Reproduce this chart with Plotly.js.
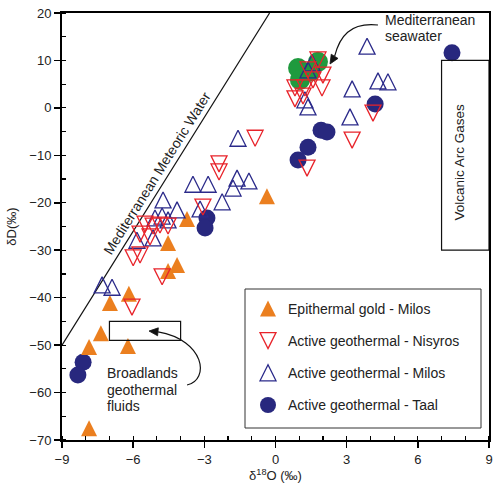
<!DOCTYPE html>
<html><head><meta charset="utf-8">
<script src="https://cdn.plot.ly/plotly-3.0.1.min.js"></script>
<style>html,body{margin:0;padding:0;background:#fff}</style>
</head><body><div id="chart" style="width:493px;height:487px"></div>
<script>
// Epithermal gold - Milos
const epiX = [-3.73, -4.53, -4.15, -4.53, -0.36, -6.18, -6.98, -7.36, -7.86, -6.22, -7.86];
const epiY = [-23.4, -28.5, -33.1, -34.4, -18.6, -39.2, -41.1, -47.5, -50.4, -50.2, -67.5];
// Active geothermal - Nisyros
const nisX = [1.79, 1.37, 2.0, 1.58, 0.82, 1.24, 1.96, 0.82, 1.16, 4.11, 3.23, 1.33, -0.86, -2.38, -2.38, -3.06, -5.5, -5.16, -4.87, -4.53, -5.71, -5.29, -6.0, -5.71, -4.78, -6.05];
const nisY = [10.1, 8.0, 6.9, 5.9, 4.2, 4.2, 4.2, 1.9, 2.5, -1.1, -6.8, -12.7, -6.4, -11.8, -13.5, -20.9, -24.5, -24.9, -24.7, -24.9, -26.6, -27.2, -31.6, -31.0, -35.6, -42.0];
// Active geothermal - Milos
const milX = [3.86, 4.32, 4.74, 3.23, 3.14, 1.54, 1.37, 1.24, 1.37, -1.58, -3.48, -2.84, -1.62, -1.12, -1.79, -2.25, -3.18, -4.15, -4.74, -4.78, -4.53, -5.08, -5.84, -5.16, -7.31, -6.89];
const milY = [13.0, 5.7, 5.5, 4.0, -1.9, 9.5, 8.0, 1.7, 0.2, -6.4, -16.1, -16.1, -14.8, -15.4, -16.9, -19.8, -21.3, -21.5, -19.4, -22.8, -23.6, -23.2, -27.9, -27.4, -37.3, -37.8];
// Active geothermal - Taal
const taalX = [7.44, 4.2, 1.92, 2.17, 1.37, 0.95, -2.89, -2.97, -8.11, -8.33];
const taalY = [11.6, 0.8, -4.7, -5.1, -8.3, -11.0, -23.2, -25.3, -53.6, -56.3];
// Mediterranean seawater
const seaX = [0.95, 1.03, 1.79, 1.46];
const seaY = [8.4, 5.9, 9.7, 7.6];
// Mediterranean Meteoric Water line (dD = 8 d18O + 22)
const mmwlX = [-9, -0.25];
const mmwlY = [-50, 20];
// Reference fields
const broadlandsX = [-7, -4];
const broadlandsY = [-49, -45];
const volcanicX = [7, 9];
const volcanicY = [-30, 10];

const FONT = 'Liberation Sans, Arial, sans-serif';
const TRI = 16;
const ORANGE = '#eb7f1f', RED = '#e8232a', BLUE = '#2b2a8a', NAVY = '#28287e';

const traces = [
  {x: seaX, y: seaY, type: 'scatter', mode: 'markers', showlegend: false, hoverinfo: 'skip',
   marker: {symbol: 'circle', size: 20, color: '#1f9a3e'}},
  {x: mmwlX, y: mmwlY, type: 'scatter', mode: 'lines', showlegend: false, hoverinfo: 'skip',
   line: {color: '#111', width: 1.2}},
  {x: taalX, y: taalY, type: 'scatter', mode: 'markers', name: 'Active geothermal - Taal',
   legendgroup: 'd', legendrank: 4,
   marker: {symbol: 'circle', size: 17, color: NAVY}},
  {x: epiX, y: epiY, type: 'scatter', mode: 'markers', name: 'Epithermal gold - Milos',
   legendgroup: 'a', showlegend: false,
   marker: {symbol: 'arrow-down', angle: 180, standoff: TRI / 2, size: TRI, color: ORANGE}},
  {x: milX, y: milY, type: 'scatter', mode: 'markers', name: 'Active geothermal - Milos',
   legendgroup: 'c', showlegend: false,
   marker: {symbol: 'arrow-down-open', angle: 180, standoff: TRI / 2, size: TRI, color: BLUE, line: {width: 1.3, color: BLUE}}},
  {x: nisX, y: nisY, type: 'scatter', mode: 'markers', name: 'Active geothermal - Nisyros',
   legendgroup: 'b', showlegend: false,
   marker: {symbol: 'arrow-down-open', angle: 0, standoff: TRI / 2, size: TRI, color: RED, line: {width: 1.3, color: RED}}},
  // legend entries (legend symbols are offset the opposite way, so they get their own marker setup)
  {x: [null], y: [null], type: 'scatter', mode: 'markers', name: 'Epithermal gold - Milos',
   legendgroup: 'a', legendrank: 1, hoverinfo: 'skip',
   marker: {symbol: 'arrow-up', angle: 0, standoff: TRI / 2, size: TRI, color: ORANGE}},
  {x: [null], y: [null], type: 'scatter', mode: 'markers', name: 'Active geothermal - Nisyros',
   legendgroup: 'b', legendrank: 2, hoverinfo: 'skip',
   marker: {symbol: 'arrow-up-open', angle: 180, standoff: TRI / 2, size: TRI, color: RED, line: {width: 1.3, color: RED}}},
  {x: [null], y: [null], type: 'scatter', mode: 'markers', name: 'Active geothermal - Milos',
   legendgroup: 'c', legendrank: 3, hoverinfo: 'skip',
   marker: {symbol: 'arrow-up-open', angle: 0, standoff: TRI / 2, size: TRI, color: BLUE, line: {width: 1.3, color: BLUE}}}
];

const axisCommon = {
  showgrid: false, zeroline: false, showline: true, mirror: true,
  linecolor: '#000', linewidth: 2,
  ticks: 'outside', ticklen: 6, tickwidth: 1.5, tickcolor: '#000',
  tickfont: {family: FONT, size: 13, color: '#222'},
  fixedrange: true
};

const layout = {
  width: 493, height: 487,
  margin: {l: 62, r: 4, t: 13, b: 47, pad: 0},
  paper_bgcolor: '#fff', plot_bgcolor: '#fff',
  font: {family: FONT, size: 13, color: '#222'},
  xaxis: Object.assign({}, axisCommon, {
    range: [-9, 9], tick0: -9, dtick: 3,
    minor: {dtick: 1, ticks: 'inside', ticklen: 4, tickwidth: 1.2, tickcolor: '#000', showgrid: false},
    title: {text: 'δ<sup>18</sup>O (‰)', font: {family: FONT, size: 13, color: '#222'}, standoff: 5}
  }),
  yaxis: Object.assign({}, axisCommon, {
    range: [-70, 20], tick0: -70, dtick: 10,
    minor: {dtick: 5, ticks: 'inside', ticklen: 4, tickwidth: 1.2, tickcolor: '#000', showgrid: false},
    title: {text: 'δD(‰)', font: {family: FONT, size: 13, color: '#222'}, standoff: 10}
  }),
  showlegend: true,
  legend: {
    x: 0.4356, y: 0.3447, xanchor: 'left', yanchor: 'top',
    bgcolor: 'rgba(0,0,0,0)', borderwidth: 0,
    font: {family: FONT, size: 14, color: '#222'},
    traceorder: 'grouped', tracegroupgap: 11, itemsizing: 'trace'
  },
  shapes: [
    {type: 'rect', xref: 'x', yref: 'y', x0: broadlandsX[0], x1: broadlandsX[1], y0: broadlandsY[0], y1: broadlandsY[1],
     line: {color: '#111', width: 1.2}, fillcolor: 'rgba(0,0,0,0)'},
    {type: 'rect', xref: 'x', yref: 'y', x0: volcanicX[0], x1: volcanicX[1], y0: volcanicY[0], y1: volcanicY[1],
     line: {color: '#111', width: 1.2}, fillcolor: 'rgba(0,0,0,0)'},
    // curved arrow to seawater
    {type: 'path', xref: 'x', yref: 'y', path: 'M 4.32,17.47 C 3.14,18.10 2.70,15.0 2.49,10.87',
     line: {color: '#111', width: 1.2}},
    {type: 'path', xref: 'x', yref: 'y', path: 'M 2.298,9.249 L 2.636,10.43 L 2.349,11.315 Z',
     line: {color: '#111', width: 0.8}, fillcolor: '#111'},
    // curved arrow to Broadlands field
    {type: 'path', xref: 'x', yref: 'y', path: 'M -3.73,-58.41 C -2.76,-57.36 -2.97,-48.93 -4.95,-47.2',
     line: {color: '#111', width: 1.2}},
    {type: 'path', xref: 'x', yref: 'y', path: 'M -5.332,-47.03 L -4.939,-46.36 L -4.970,-48.04 Z',
     line: {color: '#111', width: 0.8}, fillcolor: '#111'},
    // legend frame
    {type: 'rect', xref: 'paper', yref: 'paper', x0: 0.4286, x1: 0.9813, y0: 0.0281, y1: 0.3536,
     line: {color: '#333', width: 1}, fillcolor: '#fff', layer: 'above'}
  ],
  annotations: [
    {x: -4.98, y: -13.8, xref: 'x', yref: 'y', text: 'Mediterranean Meteoric Water', textangle: -58,
     showarrow: false, font: {family: FONT, size: 14, color: '#222'}},
    {x: 4.53, y: 18.52, xref: 'x', yref: 'y', text: 'Mediterranean', xanchor: 'left', yanchor: 'middle',
     showarrow: false, font: {family: FONT, size: 14, color: '#222'}},
    {x: 4.53, y: 15.15, xref: 'x', yref: 'y', text: 'seawater', xanchor: 'left', yanchor: 'middle',
     showarrow: false, font: {family: FONT, size: 14, color: '#222'}},
    {x: -7.18, y: -55.9, xref: 'x', yref: 'y', text: 'Broadlands', xanchor: 'left', yanchor: 'middle',
     showarrow: false, font: {family: FONT, size: 14, color: '#222'}},
    {x: -7.18, y: -59.5, xref: 'x', yref: 'y', text: 'geothermal', xanchor: 'left', yanchor: 'middle',
     showarrow: false, font: {family: FONT, size: 14, color: '#222'}},
    {x: -7.18, y: -62.8, xref: 'x', yref: 'y', text: 'fluids', xanchor: 'left', yanchor: 'middle',
     showarrow: false, font: {family: FONT, size: 14, color: '#222'}},
    {x: 7.74, y: -11.5, xref: 'x', yref: 'y', text: 'Volcanic Arc Gases', textangle: -90,
     showarrow: false, font: {family: FONT, size: 13.5, color: '#222'}}
  ]
};

Plotly.newPlot('chart', traces, layout, {displayModeBar: false, staticPlot: true});
</script>
</body></html>
